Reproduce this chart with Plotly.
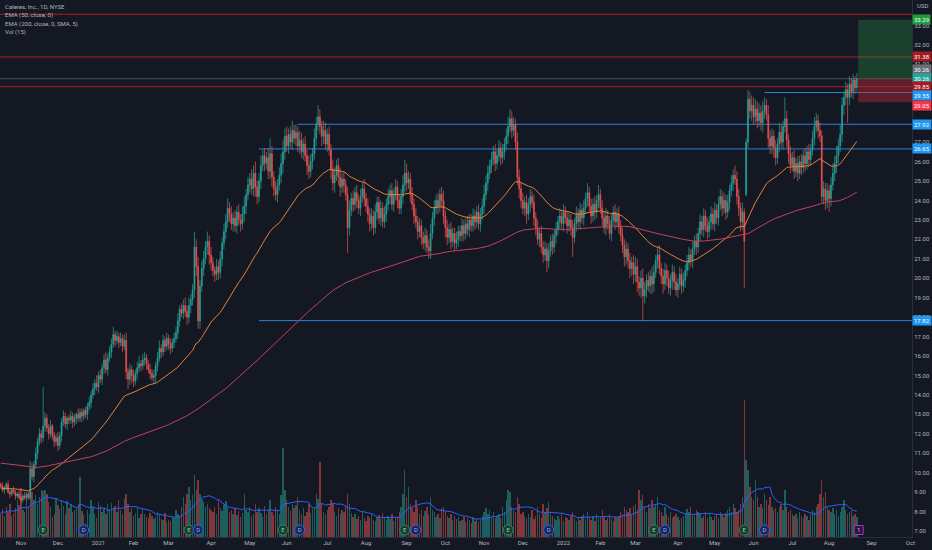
import numpy as np
import pandas as pd
import plotly.graph_objects as go

# ---------------- data ----------------
START = "2020-10-16"
HOLIDAYS = ["2020-11-26", "2020-12-25", "2021-01-01", "2021-01-18", "2021-02-15",
            "2021-04-02", "2021-05-31", "2021-07-05", "2021-09-06", "2021-11-25",
            "2021-12-24", "2022-01-17", "2022-02-21", "2022-04-15", "2022-05-30",
            "2022-06-20", "2022-07-04", "2022-09-05"]

close = [
    9.3, 9.1, 9.2, 9.4, 9.0, 8.9, 9.1, 9.0, 8.8, 8.9,
    8.7, 8.6, 8.8, 8.7, 8.9, 8.7, 10.2, 9.8, 10.4, 11.0,
    11.6, 12.0, 11.8, 12.4, 12.8, 12.3, 12.0, 12.4, 11.9, 11.6,
    11.8, 11.4, 11.9, 12.6, 12.9, 12.5, 12.8, 12.7, 12.9, 12.6,
    12.8, 13.0, 12.8, 13.1, 12.9, 13.2, 13.0, 13.4, 13.6, 14.0,
    14.3, 14.6, 14.4, 15.0, 14.8, 15.4, 15.8, 15.3, 15.9, 16.2,
    16.6, 17.1, 16.8, 17.0, 16.7, 16.9, 16.5, 16.8, 15.2, 14.8,
    15.3, 15.0, 14.7, 15.1, 15.4, 15.6, 15.5, 15.8, 15.9, 15.6,
    15.3, 15.1, 14.9, 15.0, 15.5, 15.9, 16.4, 16.2, 16.8, 16.5,
    16.9, 16.6, 16.4, 16.7, 16.9, 17.2, 17.8, 18.4, 18.2, 18.6,
    18.3, 18.0, 18.6, 18.9, 19.4, 21.6, 20.6, 17.8, 19.6, 20.5,
    21.0, 21.6, 21.9, 21.2, 20.8, 20.4, 20.2, 20.6, 20.3, 21.0,
    21.8, 22.4, 22.9, 23.6, 23.3, 22.8, 23.1, 22.7, 23.4, 23.0,
    22.8, 23.3, 23.7, 24.3, 24.8, 25.1, 24.6, 25.4, 24.7, 24.2,
    25.0, 25.8, 26.3, 25.9, 26.2, 25.5, 26.4, 25.2, 24.6, 24.3,
    24.8, 25.3, 25.9, 26.5, 27.3, 26.8, 27.4, 27.0, 27.6, 27.2,
    27.5, 26.8, 27.1, 26.5, 26.9, 26.3, 25.8, 25.5, 26.0, 26.4,
    27.2, 27.9, 28.3, 27.8, 27.3, 27.6, 26.9, 27.4, 26.6, 25.6,
    24.9, 25.3, 25.8, 25.2, 24.7, 25.1, 24.8, 24.3, 22.6, 23.5,
    24.1, 23.8, 24.4, 24.0, 23.6, 24.2, 24.6, 24.1, 23.7, 23.3,
    22.8, 23.2, 22.6, 23.4, 23.9, 23.1, 23.6, 22.9, 23.3, 23.8,
    24.2, 24.5, 23.8, 24.3, 24.7, 24.0, 23.6, 24.2, 24.8, 25.4,
    24.9, 25.1, 24.3, 23.8, 23.2, 22.9, 22.4, 22.7, 22.1, 21.8,
    22.2, 21.6, 21.4, 22.3, 23.1, 23.6, 24.0, 23.7, 24.3, 24.0,
    23.2, 22.6, 22.1, 22.5, 21.9, 22.3, 21.8, 22.0, 22.4, 22.2,
    22.7, 22.3, 22.8, 22.5, 23.0, 22.7, 23.2, 22.9, 23.4, 22.8,
    23.3, 23.7, 24.3, 24.9, 25.4, 25.8, 26.1, 26.5, 25.9, 26.3,
    26.7, 26.2, 26.5, 26.9, 27.3, 27.8, 28.2, 27.6, 27.9, 27.0,
    25.2, 24.6, 24.0, 23.6, 23.9, 23.3, 23.8, 24.2, 23.9, 23.1,
    22.6, 22.0, 22.3, 21.6, 21.2, 21.5, 20.9, 21.4, 21.9, 21.6,
    22.2, 22.5, 22.9, 23.2, 22.8, 23.4, 23.1, 22.7, 23.0, 22.6,
    22.1, 22.8, 23.3, 22.9, 23.5, 23.1, 23.6, 24.1, 24.4, 23.7,
    23.2, 23.8, 23.4, 24.0, 24.3, 23.6, 23.1, 22.6, 23.2, 22.8,
    22.3, 23.0, 23.4, 22.9, 23.3, 22.7, 22.2, 21.7, 21.1, 21.5,
    20.9, 20.5, 20.8, 20.2, 20.6, 19.8, 19.5, 20.0, 19.1, 19.4,
    19.9, 19.6, 20.1, 19.7, 20.3, 20.9, 21.2, 20.5, 20.1, 19.7,
    20.4, 20.0, 19.5, 19.9, 20.3, 19.8, 19.4, 19.7, 20.2, 19.6,
    19.9, 20.4, 20.8, 21.2, 20.9, 21.5, 21.9, 21.6, 22.3, 22.9,
    22.5, 23.2, 22.7, 22.4, 22.9, 23.3, 22.8, 23.5, 23.1, 23.8,
    24.2, 23.6, 24.0, 23.4, 23.9, 24.5, 24.9, 25.3, 25.1, 24.2,
    23.6, 22.9, 23.4, 21.9, 27.0, 29.2, 28.6, 28.9, 28.3, 28.7,
    28.1, 28.5, 28.0, 28.6, 28.9, 28.4, 27.2, 26.8, 27.3, 26.7,
    26.2, 26.9, 27.5, 27.0, 27.8, 28.2, 27.1, 26.4, 25.8, 26.2,
    25.5, 25.9, 25.4, 26.0, 25.7, 26.3, 25.9, 26.5, 26.1, 26.6,
    27.2, 27.8, 28.1, 27.6, 27.3, 24.2, 24.6, 24.0, 24.5, 24.1,
    24.8, 25.4, 25.9, 26.3, 26.8, 27.4, 28.9, 29.3, 29.7, 29.3,
    30.0, 29.6, 30.2, 29.8, 30.26,
]
first_open = 9.4
open_gaps = {404: 24.3}

# wick lengths in tenths of a dollar
wick_up = [
    1, 2, 1, 1, 2, 1, 1, 2, 1, 1, 2, 1, 1, 2, 1, 1, 4, 3, 2, 3,
    2, 3, 2, 20, 3, 2, 2, 3, 1, 2, 2, 3, 2, 2, 3, 2, 1, 2, 3, 2,
    2, 1, 3, 2, 2, 1, 2, 2, 3, 2, 3, 2, 4, 2, 3, 2, 3, 4, 2, 3,
    3, 4, 2, 3, 2, 3, 2, 3, 4, 2, 3, 2, 3, 2, 3, 4, 2, 3, 3, 2,
    2, 3, 2, 3, 2, 3, 4, 2, 3, 2, 3, 2, 3, 2, 3, 3, 4, 2, 3, 3,
    4, 3, 4, 3, 3, 8, 4, 5, 3, 4, 4, 3, 5, 3, 4, 3, 2, 4, 3, 4,
    3, 4, 4, 5, 3, 4, 3, 4, 3, 4, 3, 4, 5, 3, 4, 3, 5, 4, 6, 3,
    4, 5, 3, 4, 3, 5, 8, 4, 3, 4, 3, 4, 5, 6, 4, 5, 3, 4, 5, 3,
    4, 3, 5, 4, 3, 4, 3, 5, 4, 3, 5, 4, 6, 4, 3, 5, 4, 3, 4, 3,
    5, 4, 3, 4, 5, 3, 4, 3, 4, 5, 3, 4, 3, 4, 3, 4, 3, 5, 3, 4,
    3, 4, 3, 4, 3, 3, 4, 3, 4, 3, 4, 3, 4, 3, 4, 3, 3, 4, 5, 7,
    5, 4, 3, 4, 3, 4, 3, 4, 3, 3, 4, 3, 4, 5, 3, 4, 3, 4, 3, 4,
    5, 3, 4, 3, 4, 3, 3, 4, 3, 3, 4, 3, 3, 4, 3, 3, 4, 3, 3, 4,
    3, 4, 5, 4, 4, 3, 4, 3, 4, 3, 4, 3, 4, 3, 4, 5, 5, 4, 4, 3,
    5, 4, 3, 4, 3, 4, 3, 4, 3, 4, 3, 4, 3, 4, 3, 4, 3, 4, 3, 4,
    3, 4, 3, 4, 3, 4, 3, 3, 4, 3, 4, 3, 4, 3, 4, 3, 4, 3, 5, 3,
    4, 3, 4, 3, 5, 3, 4, 3, 4, 3, 4, 3, 3, 4, 3, 4, 3, 4, 3, 4,
    3, 4, 3, 4, 5, 4, 3, 4, 5, 4, 3, 4, 3, 5, 4, 3, 4, 5, 3, 4,
    4, 3, 4, 3, 4, 3, 4, 3, 4, 3, 4, 3, 4, 4, 3, 4, 3, 4, 3, 4,
    3, 4, 3, 4, 3, 4, 3, 4, 3, 4, 4, 3, 4, 3, 4, 3, 4, 3, 5, 4,
    4, 3, 5, 2, 2, 5, 4, 5, 4, 5, 4, 5, 4, 5, 4, 3, 5, 4, 4, 3,
    4, 3, 5, 4, 3, 11, 4, 3, 4, 3, 4, 3, 4, 3, 4, 3, 4, 3, 4, 3,
    4, 5, 4, 3, 4, 3, 4, 3, 4, 3, 4, 5, 4, 5, 4, 5, 4, 3, 4, 3,
    4, 3, 3, 2, 3,
]
wick_dn = [
    1, 1, 2, 1, 1, 2, 1, 1, 2, 1, 1, 2, 1, 1, 2, 1, 1, 2, 3, 2,
    3, 2, 3, 2, 3, 2, 3, 2, 2, 3, 2, 3, 2, 3, 2, 2, 3, 2, 2, 3,
    2, 3, 2, 2, 3, 2, 2, 3, 2, 3, 2, 3, 2, 3, 2, 3, 3, 2, 3, 2,
    3, 2, 3, 2, 3, 2, 3, 2, 4, 5, 3, 4, 3, 2, 3, 2, 3, 2, 3, 3,
    2, 3, 2, 3, 4, 3, 2, 3, 2, 3, 2, 3, 3, 2, 3, 2, 3, 3, 2, 3,
    3, 4, 3, 4, 3, 4, 5, 4, 4, 3, 4, 3, 4, 5, 4, 3, 4, 3, 4, 3,
    4, 3, 4, 3, 4, 3, 4, 3, 4, 3, 4, 3, 4, 4, 3, 4, 3, 4, 5, 4,
    3, 4, 3, 4, 3, 4, 4, 5, 4, 3, 4, 3, 4, 5, 4, 3, 4, 3, 4, 3,
    4, 3, 4, 3, 4, 3, 5, 4, 3, 4, 3, 4, 3, 4, 5, 4, 3, 4, 3, 5,
    4, 5, 3, 4, 5, 3, 4, 3, 13, 4, 3, 4, 3, 4, 3, 4, 3, 4, 3, 4,
    4, 3, 4, 3, 4, 3, 4, 3, 3, 4, 3, 4, 3, 4, 3, 4, 3, 3, 4, 4,
    4, 3, 4, 3, 4, 3, 4, 3, 4, 3, 4, 3, 4, 4, 3, 4, 3, 4, 3, 4,
    4, 5, 4, 3, 4, 3, 4, 3, 4, 3, 3, 4, 3, 3, 4, 3, 3, 4, 3, 3,
    4, 3, 4, 3, 4, 3, 4, 3, 4, 3, 3, 4, 3, 4, 3, 4, 3, 4, 3, 4,
    4, 5, 4, 3, 4, 5, 3, 4, 3, 4, 4, 3, 4, 3, 4, 3, 6, 4, 3, 4,
    3, 4, 3, 4, 3, 4, 3, 4, 3, 4, 10, 3, 4, 3, 4, 3, 4, 3, 4, 3,
    4, 3, 4, 3, 4, 3, 4, 3, 4, 3, 3, 4, 3, 4, 3, 4, 3, 4, 5, 4,
    4, 5, 4, 5, 4, 5, 4, 5, 13, 4, 4, 3, 4, 5, 4, 3, 4, 3, 4, 5,
    3, 4, 3, 4, 5, 4, 3, 4, 3, 4, 3, 4, 3, 4, 3, 4, 3, 4, 3, 4,
    3, 4, 3, 4, 3, 4, 3, 4, 3, 4, 3, 4, 3, 4, 3, 4, 3, 4, 3, 4,
    4, 5, 4, 24, 1, 3, 4, 5, 4, 3, 4, 3, 4, 5, 4, 3, 5, 4, 4, 5,
    4, 3, 4, 3, 4, 3, 4, 5, 4, 3, 4, 3, 4, 3, 4, 3, 4, 3, 4, 3,
    3, 4, 3, 4, 3, 3, 4, 5, 4, 7, 4, 3, 4, 5, 4, 3, 4, 5, 4, 13,
    4, 3, 4, 3, 2,
]

# volume in thousands of shares
volume = [
    700, 850, 620, 900, 760, 980, 640, 720, 880, 1100,
    960, 1470, 820, 760, 1050, 900, 1700, 1350, 1100, 1250,
    980, 1200, 1400, 1380, 1420, 1300, 1050, 900, 600, 700,
    1150, 960, 850, 1100, 920, 700, 1080, 860, 990, 760,
    820, 900, 1000, 1800, 780, 650, 420, 820, 700, 1100,
    900, 680, 560, 1050, 940, 760, 880, 690, 990, 820,
    1020, 880, 940, 760, 1100, 820, 700, 1150, 1280, 980,
    760, 880, 640, 720, 900, 560, 680, 830, 700, 610,
    580, 720, 640, 530, 600, 760, 680, 540, 500, 720,
    450, 520, 480, 600, 560, 820, 700, 640, 900, 1200,
    980, 1300, 1500, 1100, 1250, 1850, 1400, 1700, 1300, 1150,
    1050, 900, 1000, 880, 820, 760, 900, 700, 1100, 860,
    780, 950, 1080, 900, 750, 820, 700, 880, 650, 780,
    600, 720, 1300, 820, 760, 900, 640, 700, 1000, 760,
    880, 720, 600, 940, 680, 800, 1100, 760, 650, 900,
    820, 700, 1250, 2670, 1400, 1100, 900, 780, 1000, 860,
    950, 1200, 800, 700, 880, 640, 760, 1000, 720, 840,
    900, 1300, 1150, 2250, 1000, 760, 680, 820, 900, 1100,
    980, 760, 640, 880, 700, 820, 760, 940, 1300, 1000,
    720, 600, 680, 540, 620, 500, 760, 560, 480, 640,
    560, 700, 520, 480, 600, 660, 540, 720, 580, 500,
    620, 540, 700, 480, 560, 600, 760, 900, 1300, 2000,
    1200, 1500, 1000, 880, 760, 1100, 900, 700, 820, 640,
    780, 900, 700, 1200, 820, 760, 600, 700, 560, 880,
    900, 760, 640, 560, 700, 500, 620, 540, 600, 480,
    520, 600, 450, 560, 500, 420, 600, 480, 540, 460,
    500, 640, 760, 880, 700, 820, 600, 740, 560, 640,
    700, 580, 900, 760, 1100, 1400, 1350, 900, 820, 760,
    1200, 980, 700, 760, 640, 560, 700, 600, 820, 540,
    620, 900, 700, 580, 1000, 760, 880, 1050, 700, 640,
    560, 500, 620, 540, 700, 480, 600, 580, 520, 640,
    760, 560, 480, 600, 500, 620, 700, 540, 760, 600,
    520, 640, 480, 700, 560, 600, 820, 640, 520, 580,
    700, 540, 480, 600, 560, 640, 760, 700, 900, 820,
    760, 880, 700, 940, 1000, 820, 1400, 1100, 1250, 900,
    760, 1000, 880, 1100, 900, 980, 1200, 820, 760, 640,
    900, 700, 600, 760, 560, 640, 700, 600, 520, 580,
    620, 700, 840, 760, 900, 700, 640, 820, 760, 700,
    580, 640, 760, 560, 700, 600, 520, 640, 700, 580,
    760, 680, 600, 720, 820, 900, 760, 1000, 880, 760,
    820, 1000, 1200, 4100, 2300, 2000, 1500, 1200, 1100, 1700,
    1200, 900, 1000, 880, 1300, 1100, 960, 1200, 900, 820,
    880, 760, 900, 1000, 820, 1400, 900, 760, 820, 700,
    640, 700, 560, 760, 620, 580, 700, 640, 520, 700,
    820, 760, 900, 1000, 1300, 1700, 1200, 1350, 900, 800,
    760, 880, 700, 820, 640, 760, 900, 1100, 800, 700,
    760, 820, 640, 700, 600,
]

ema50_seed = 9.2
ema200_seed = 10.5

# horizontal levels
full_red_levels = [33.58, 31.38, 29.85]
full_gray_levels = [30.26]
blue_levels = [26.65, 17.82, 27.92, 29.55]
blue_level_starts = ["2021-05-10", "2021-05-10", "2021-06-09", "2022-06-09"]

# long-position tool
pos_target = 33.29
pos_entry = 30.26
pos_stop = 29.05

# events
earn_dates = ["2020-11-18", "2021-03-16", "2021-05-27", "2021-08-31",
              "2021-11-18", "2022-03-15", "2022-05-24"]
div_dates = ["2020-12-21", "2021-03-23", "2021-06-10", "2021-09-09",
             "2021-12-21", "2022-03-23", "2022-06-09"]
note_dates = ["2022-08-23"]

legend_lines = ["Caleres, Inc., 1D, NYSE", "EMA (50, close, 0)",
                "EMA (200, close, 0, SMA, 5)", "Vol (15)"]
# price-scale ticks left visible (others sit under the price labels)
price_ticks = [7, 8, 9, 10, 11, 12, 13, 14, 15, 16, 17, 18, 19, 20, 21, 22,
               23, 24, 25, 26, 27, 31, 32, 33]

# ---------------- build ----------------
N = len(close)
bday = pd.offsets.CustomBusinessDay(holidays=HOLIDAYS)
all_dates = pd.date_range(START, "2022-10-31", freq=bday)
pos_of = {d.strftime("%Y-%m-%d"): i for i, d in enumerate(all_dates)}
idx = np.arange(N)

opens = []
prev = first_open
for i, c in enumerate(close):
    o = open_gaps.get(i, prev)
    opens.append(o)
    prev = c
highs = [max(o, c) + u / 10 for o, c, u in zip(opens, close, wick_up)]
lows = [min(o, c) - d / 10 for o, c, d in zip(opens, close, wick_dn)]


def ema(values, n, seed):
    a = 2.0 / (n + 1)
    e = seed
    out = []
    for v in values:
        e = e + a * (v - e)
        out.append(e)
    return np.array(out)


ema50 = ema(close, 50, ema50_seed)
ema200 = pd.Series(ema(close, 200, ema200_seed)).rolling(5, min_periods=1).mean()
vol_ma = pd.Series(volume, dtype=float).rolling(15, min_periods=1).mean()

UP = "#26a69a"
DN = "#ef5350"
BG = "#141823"
TXT = "#b2b5be"
FONT = "Roboto"

X0, X1 = -0.38, 493.9
Y0, Y1 = 6.69, 34.31

fig = go.Figure()

vcol = ["rgba(38,166,154,0.5)" if c >= o else "rgba(239,83,80,0.5)"
        for o, c in zip(opens, close)]
fig.add_trace(go.Bar(x=idx, y=volume, marker=dict(color=vcol, line=dict(width=0)),
                     width=0.75, yaxis="y2", showlegend=False, hoverinfo="skip"))
fig.add_trace(go.Scatter(x=idx, y=vol_ma, mode="lines", yaxis="y2",
                         line=dict(color="#2962ff", width=1), showlegend=False,
                         hoverinfo="skip"))

fig.add_trace(go.Candlestick(
    x=idx, open=opens, high=highs, low=lows, close=close,
    increasing=dict(line=dict(color=UP, width=0.7), fillcolor=UP),
    decreasing=dict(line=dict(color=DN, width=0.7), fillcolor=DN),
    whiskerwidth=0, showlegend=False, hoverinfo="skip"))

fig.add_trace(go.Scatter(x=idx, y=ema50, mode="lines",
                         line=dict(color="#e8803a", width=1), showlegend=False,
                         hoverinfo="skip"))
fig.add_trace(go.Scatter(x=idx, y=ema200, mode="lines",
                         line=dict(color="#c2435a", width=1), showlegend=False,
                         hoverinfo="skip"))

# event markers
ev_y = 210
fig.add_trace(go.Scatter(
    x=[pos_of[d] for d in earn_dates], y=[ev_y] * len(earn_dates), yaxis="y2",
    mode="markers+text", text=["E"] * len(earn_dates), textposition="middle center",
    textfont=dict(size=6, color="#8fd3a8", family=FONT),
    marker=dict(symbol="circle", size=10, color="#1c3a33",
                line=dict(color="#2e8b57", width=1)),
    showlegend=False, hoverinfo="skip"))
fig.add_trace(go.Scatter(
    x=[pos_of[d] for d in div_dates], y=[ev_y] * len(div_dates), yaxis="y2",
    mode="markers+text", text=["D"] * len(div_dates), textposition="middle center",
    textfont=dict(size=6, color="#9fb4ff", family=FONT),
    marker=dict(symbol="circle", size=10, color="#1a2550",
                line=dict(color="#2962ff", width=1)),
    showlegend=False, hoverinfo="skip"))
fig.add_trace(go.Scatter(
    x=[pos_of[d] for d in note_dates], y=[ev_y] * len(note_dates), yaxis="y2",
    mode="markers+text", text=["1"] * len(note_dates), textposition="middle center",
    textfont=dict(size=6, color="#e0a0f0", family=FONT),
    marker=dict(symbol="square", size=9, color="#2a1836",
                line=dict(color="#b02fd0", width=1)),
    showlegend=False, hoverinfo="skip"))

shapes = []
for lv in full_red_levels:
    shapes.append(dict(type="line", xref="paper", x0=0, x1=1, yref="y", y0=lv, y1=lv,
                       line=dict(color="#a3212b", width=1), layer="below"))
for lv in full_gray_levels:
    shapes.append(dict(type="line", xref="paper", x0=0, x1=1, yref="y", y0=lv, y1=lv,
                       line=dict(color="#4a4e5a", width=1), layer="below"))
for lv, st in zip(blue_levels, blue_level_starts):
    shapes.append(dict(type="line", xref="x", x0=pos_of[st], x1=X1, yref="y",
                       y0=lv, y1=lv, line=dict(color="#2f7fd8", width=1), layer="below"))
pos_x0 = N - 0.3
shapes.append(dict(type="rect", xref="x", x0=pos_x0, x1=X1, yref="y", y0=pos_entry,
                   y1=pos_target, fillcolor="rgba(46,160,70,0.30)", line=dict(width=0),
                   layer="below"))
shapes.append(dict(type="rect", xref="x", x0=pos_x0, x1=X1, yref="y", y0=pos_stop,
                   y1=pos_entry, fillcolor="rgba(220,40,55,0.38)", line=dict(width=0),
                   layer="below"))

annotations = []
for k, t in enumerate(legend_lines):
    annotations.append(dict(xref="paper", yref="paper", x=0, xshift=3,
                            y=1 - (6.5 + 8.6 * k) / 537, xanchor="left", yanchor="middle",
                            text=t, showarrow=False,
                            font=dict(size=6, color=TXT, family=FONT)))
annotations.append(dict(xref="paper", yref="paper", x=1, xshift=3, y=1 - 5 / 537,
                        xanchor="left", yanchor="middle", text="USD", showarrow=False,
                        font=dict(size=6, color=TXT, family=FONT)))

price_labels = [
    (pos_target, "#1e9e3a", 0),
    (full_red_levels[1], "#a31c24", 0),
    (pos_entry, "#6a6d78", 9),
    (close[-1], UP, 0),
    (full_red_levels[2], "#a31c24", 0),
    (blue_levels[3], "#2196f3", -3),
    (pos_stop, "#f23645", -3),
    (blue_levels[2], "#2196f3", 0),
    (blue_levels[0], "#2196f3", 0),
    (blue_levels[1], "#2196f3", 0),
]
for p, col, ys in price_labels:
    annotations.append(dict(xref="paper", yref="y", x=1, xshift=-0.5, y=p, yshift=ys,
                            xanchor="left", yanchor="middle", text=f"{p:.2f}",
                            showarrow=False, bgcolor=col, borderpad=1,
                            font=dict(size=6, color="#ffffff", family=FONT)))

# month ticks
tickvals, ticktext = [], []
for i in range(1, len(all_dates)):
    if all_dates[i].month != all_dates[i - 1].month:
        d = all_dates[i]
        tickvals.append(i)
        ticktext.append(str(d.year) if d.month == 1 else d.strftime("%b"))

fig.update_layout(
    width=932, height=550, margin=dict(l=0, r=20, t=0, b=13),
    paper_bgcolor=BG, plot_bgcolor=BG, showlegend=False, bargap=0,
    font=dict(family=FONT, color=TXT, size=6),
    shapes=shapes, annotations=annotations, hovermode=False,
    xaxis=dict(range=[X0, X1], tickvals=tickvals, ticktext=ticktext, showgrid=False,
               zeroline=False, ticks="", showline=True, linecolor="#2a2e39",
               tickfont=dict(size=6, color=TXT, family=FONT), rangeslider=dict(visible=False),
               automargin=False, fixedrange=True),
    yaxis=dict(range=[Y0, Y1], side="right", tickvals=price_ticks,
               ticktext=[f"{v:.2f}" for v in price_ticks], showgrid=False, zeroline=False,
               ticks="", showline=True, linecolor="#2a2e39",
               tickfont=dict(size=6, color=TXT, family=FONT), automargin=False),
    yaxis2=dict(range=[0, 16110], overlaying="y", side="left", visible=False,
                showgrid=False, zeroline=False),
)

fig.write_html(
    "out.html",
    config={"displayModeBar": False},
    post_script=("document.body.style.margin='0';document.body.style.padding='0';"
                 "document.body.style.overflow='hidden';"
                 "document.body.style.background='%s';" % BG),
)
